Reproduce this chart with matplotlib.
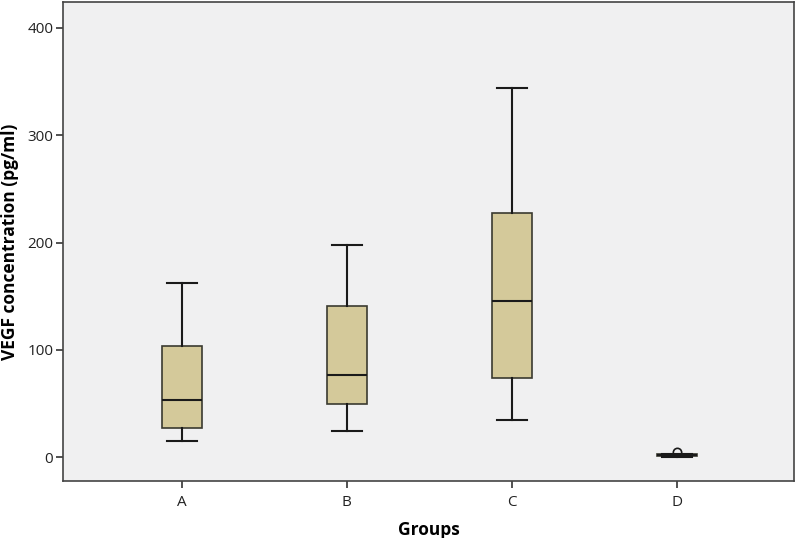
import matplotlib
matplotlib.use('Agg')
import matplotlib.pyplot as plt

groups = ['A', 'B', 'C', 'D']
whislo = [15, 25, 35, 0.5]
q1 = [27, 50, 74, 1.2]
med = [53, 77, 146, 2.0]
q3 = [103.5, 141, 228, 3.0]
whishi = [162, 198, 344, 3.5]
fliers = [[], [], [], [5]]

plt.rcParams['font.family'] = ['Open Sans', 'DejaVu Sans']

stats = [dict(label=g, whislo=lo, q1=a, med=m, q3=b, whishi=hi, fliers=f)
         for g, lo, a, m, b, hi, f in zip(groups, whislo, q1, med, q3, whishi, fliers)]

fig = plt.figure(figsize=(8, 5.38), dpi=100)
ax = fig.add_axes([63/800, 57/538, 731/800, 479/538])
ax.set_facecolor('#f0f0f1')

ax.bxp(stats, positions=range(4), widths=0.24, capwidths=0.18, patch_artist=True,
       boxprops=dict(facecolor='#d4c99a', edgecolor='#3a3a30', linewidth=1.2),
       medianprops=dict(color='#1a1a1a', linewidth=1.5),
       whiskerprops=dict(color='#1a1a1a', linewidth=1.5),
       capprops=dict(color='#1a1a1a', linewidth=1.5),
       flierprops=dict(marker='o', markerfacecolor='none', markeredgecolor='#1a1a1a',
                       markersize=6, markeredgewidth=1.2))

ax.set_xlim(-0.72, 3.71)
ax.set_ylim(-22, 424)
ax.set_yticks([0, 100, 200, 300, 400])
ax.tick_params(axis='both', labelsize=11, colors='#333333', length=5, width=1.2, pad=2)
ax.tick_params(axis='x', pad=5)
ax.tick_params(axis='both', labelcolor='#222222')
for s in ax.spines.values():
    s.set_color('#444444')
    s.set_linewidth(1.2)

ax.set_xlabel('Groups', fontsize=12.5, fontweight='bold', labelpad=8)
ax.set_ylabel('VEGF concentration (pg/ml)', fontsize=12.5, fontweight='bold', labelpad=6)

fig.savefig('out.png', dpi=100)
